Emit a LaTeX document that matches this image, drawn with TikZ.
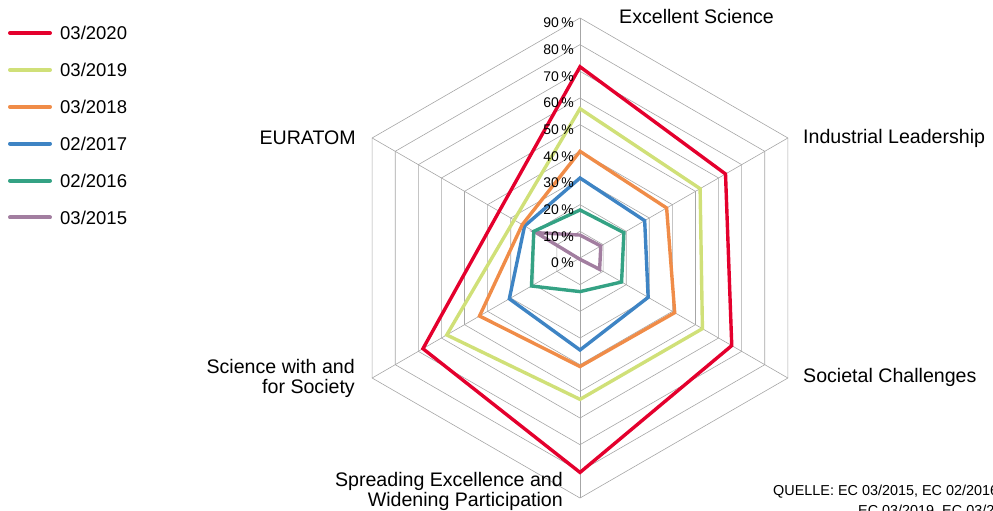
\documentclass[tikz,border=0pt]{standalone}
\usepackage{fontspec}
\setmainfont{Liberation Sans}
\definecolor{c2020}{RGB}{228,0,45}
\definecolor{c2019}{RGB}{208,224,120}
\definecolor{c2018}{RGB}{240,140,72}
\definecolor{c2017}{RGB}{62,132,196}
\definecolor{c2016}{RGB}{52,162,132}
\definecolor{c2015}{RGB}{162,126,160}
\begin{document}
\begin{tikzpicture}[x=1pt,y=1pt,
    grid/.style={draw=black!35,line width=0.6pt},
    series/.style={line width=3.4pt,line join=miter},
    axislabel/.style={font=\fontsize{19.6}{20}\selectfont,inner sep=0pt},
    pctlabel/.style={font=\fontsize{14}{15}\selectfont,inner sep=0pt,anchor=east},
    keytext/.style={font=\fontsize{18.5}{20}\selectfont,inner sep=0pt,anchor=west},
    sourcetext/.style={font=\fontsize{14.4}{16}\selectfont,inner sep=0pt,anchor=west}]
    \useasboundingbox (0,0) rectangle (993,511);
    \foreach \m/\yr [count=\i] in {03/2020,03/2019,03/2018,02/2017,02/2016,03/2015}{
        \draw[c\yr,line width=4pt,line cap=round] (10,{478-36.9*(\i-1)}) -- (50,{478-36.9*(\i-1)});
        \node[keytext] (key\yr) at (60,{478-36.9*(\i-1)}) {\m/\yr};
    }
    \begin{scope}[shift={(580,253)},x=2.667pt,y=2.667pt]
        \foreach \r in {10,20,...,90}
            \draw[grid] (90:\r) -- (30:\r) -- (-30:\r) -- (-90:\r) -- (210:\r) -- (150:\r) -- cycle;
        \foreach \a in {90,30,-30,-90,210,150}
            \draw[grid] (0,0) -- (\a:90);
        \draw[series,c2015] (90:8.6) -- (30:9) -- (-30:8.5) -- (-90:0.5) -- (210:0.5) -- (150:19) -- cycle;
        \draw[series,c2016] (90:18) -- (30:19) -- (-30:18) -- (-90:12.6) -- (210:21) -- (150:20) -- cycle;
        \draw[series,c2017] (90:30) -- (30:28) -- (-30:29.5) -- (-90:34.5) -- (210:30.6) -- (150:24) -- cycle;
        \draw[series,c2018] (90:40) -- (30:37.5) -- (-30:41) -- (-90:40.7) -- (210:43.5) -- (150:25) -- cycle;
        \draw[series,c2019] (90:56) -- (30:52) -- (-30:53) -- (-90:53) -- (210:57.7) -- (150:28.5) -- cycle;
        \draw[series,c2020] (90:71.7) -- (30:63) -- (-30:65.7) -- (-90:80.4) -- (210:68) -- (150:35) -- cycle;
    \end{scope}
    \foreach \p [evaluate=\p as \v using int(10*\p)] in {0,...,9}
        \node[pctlabel] (pct\v) at (574,{248+26.67*\p}) {\v\,\%};
    \node[axislabel,anchor=west] (excellent) at (619,494) {Excellent Science};
    \node[axislabel,anchor=west] (industrial) at (803,373) {Industrial Leadership};
    \node[axislabel,anchor=west] (societal) at (803,134) {Societal Challenges};
    \node[axislabel,anchor=east,align=right] (spreading) at (563,20) {Spreading Excellence and\\Widening Participation};
    \node[axislabel,anchor=east,align=right] (society) at (355,133) {Science with and\\for Society};
    \node[axislabel,anchor=east] (euratom) at (356,373) {EURATOM};
    \node[sourcetext] (source) at (773,19) {QUELLE: EC 03/2015, EC 02/2016, EC 03/2018,};
    \node[sourcetext] (source2) at (858,0) {EC 03/2019, EC 03/2020};
\end{tikzpicture}
\end{document}
